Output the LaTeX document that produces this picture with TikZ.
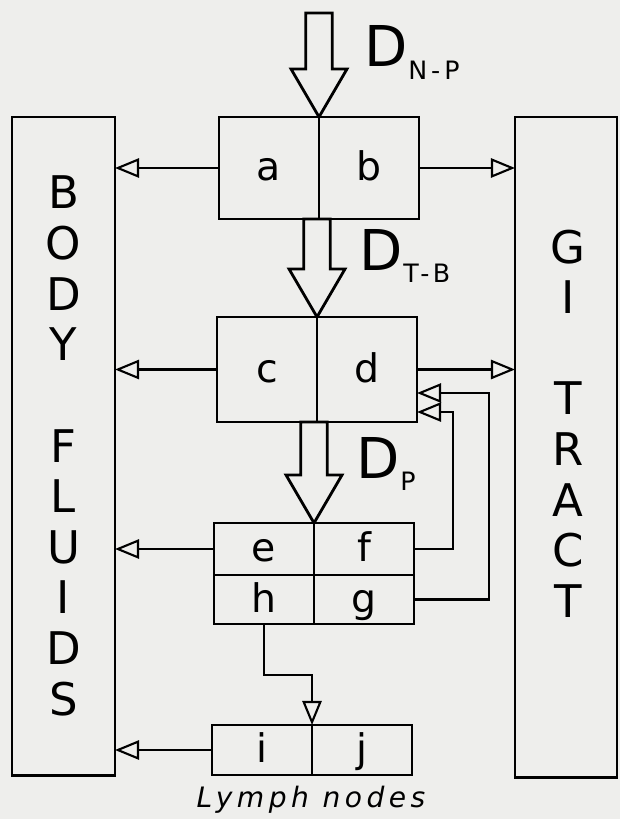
\documentclass[tikz,border=0pt]{standalone}
\usepackage{fontspec}
\setmainfont{DejaVu Sans}
\usetikzlibrary{positioning,arrows.meta,calc}
\definecolor{paper}{RGB}{238,238,236}
\newcommand{\dsym}[1]{{\fontsize{40}{40}\selectfont D}\raisebox{-9pt}{\fontsize{18}{18}\selectfont\addfontfeature{LetterSpace=16}#1}}
\newcommand{\fatarrow}[2]{%
  \draw[fat] let \p1=(#1), \p2=(#2) in
    (\x2-0.33cm,\y1) -- (\x2-0.33cm,\y2+1.2cm) -- (\x2-0.7cm,\y2+1.2cm) -- (\p2)
    -- (\x2+0.7cm,\y2+1.2cm) -- (\x2+0.33cm,\y2+1.2cm) -- (\x2+0.33cm,\y1) -- cycle;}
\tikzset{
  cell/.style={draw, line width=2pt, outer sep=0pt, inner sep=0pt, minimum width=2.5cm,
    text height=21pt, text depth=3pt, font=\fontsize{28}{28}\selectfont},
  organ/.style={draw, line width=2pt, outer sep=0pt, minimum height=16.45cm},
  tall/.style={align=center, font=\fontsize{32}{36}\selectfont},
  flow/.style={line width=1.5pt, -{Triangle[open, length=0.6cm, width=0.48cm]}},
  fat/.style={line width=2pt, line join=miter}
}
\begin{document}
\begin{tikzpicture}[x=0.025cm, y=-0.025cm]
\fill[paper] (0,0) rectangle (620,819);
\useasboundingbox (0,0) rectangle (620,819);
% side boxes
\node[organ, minimum width=2.575cm, tall] (body) at (63.5,446)
  {B\\O\\D\\Y\\[36pt]F\\L\\U\\I\\D\\S};
\node[organ, minimum width=2.55cm, minimum height=16.5cm] (gi) at (566,447) {};
\node[tall] (gitext) at (568,423.5) {G\\I\\[36pt]T\\R\\A\\C\\T};
% compartments
\node[cell, minimum height=2.55cm] (a) at (269,168) {a};
\node[cell, minimum height=2.55cm, right=0pt of a] (b) {b};
\node[cell, minimum height=2.625cm] (c) at (267,369.5) {c};
\node[cell, minimum height=2.625cm, right=0pt of c] (d) {d};
\node[cell, minimum height=1.3cm] (e) at (264,549) {e};
\node[cell, minimum height=1.3cm, right=0pt of e] (f) {f};
\node[cell, minimum height=1.225cm, below=0pt of e] (h) {h};
\node[cell, minimum height=1.225cm, right=0pt of h] (g) {g};
\node[cell, minimum height=1.25cm] (i) at (262,750) {i};
\node[cell, minimum height=1.25cm, right=0pt of i] (j) {j};
\node (lymph) at (311,800) {\fontsize{20}{20}\selectfont\itshape\addfontfeature{LetterSpace=16}Lymph nodes};
% deposition
\coordinate (inhale) at (321,13);
\fatarrow{inhale}{a.north east}
\fatarrow{a.south east}{c.north east}
\fatarrow{c.south east}{e.north east}
\node[anchor=base west] (dnp) at (360,67) {\dsym{N-P}};
\node[anchor=base west] (dtb) at (355,270) {\dsym{T-B}};
\node[anchor=base west] (dp) at (352,478) {\dsym{P}};
% clearance
\draw[flow] (a.west) -- (body.east |- a.west);
\draw[flow] (c.west) -- (body.east |- c.west);
\draw[flow] (e.west) -- (body.east |- e.west);
\draw[flow] (i.west) -- (body.east |- i.west);
\draw[flow] (b.east) -- (gi.west |- b.east);
\draw[flow] (d.east) -- (gi.west |- d.east);
\draw[flow] (f.east) -- ++(39,0) |- ([yshift=0.25cm]d.south east);
\draw[flow] (g.east) -- ++(75,0) |- ([yshift=0.725cm]d.south east);
\draw[flow] (h.south) -- ++(0,51) -| (i.north east);
\end{tikzpicture}
\end{document}
